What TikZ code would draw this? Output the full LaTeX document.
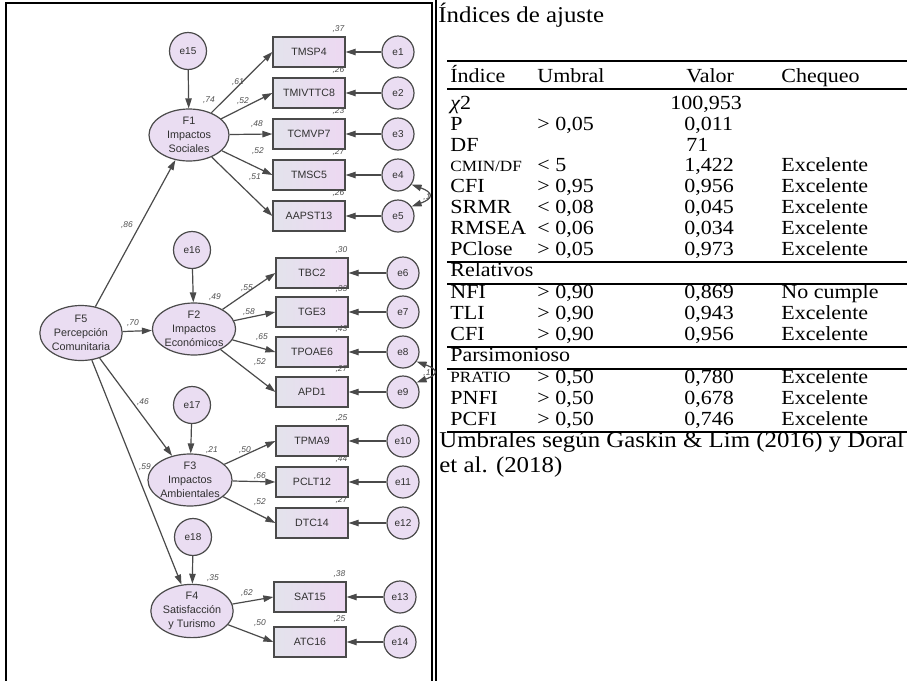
\documentclass[tikz,border=0pt]{standalone}
\usepackage{fontspec}
\setmainfont{Liberation Serif}
\newfontfamily\amosfont{Liberation Sans}
\usetikzlibrary{arrows.meta,shapes.geometric,positioning}

\definecolor{amosline}{HTML}{4A4A4A}
\definecolor{amosfill}{HTML}{EADDF2}
\definecolor{boxleft}{HTML}{E3E3EC}
\definecolor{boxright}{HTML}{EDD8F2}
\definecolor{amostext}{HTML}{303030}
\definecolor{coefgray}{HTML}{505050}

\newcommand\ancho[1]{\scalebox{1.1}[1]{#1}}

\begin{document}
\begin{tikzpicture}[x=0.5pt,y=-0.5pt,
  obs/.style={draw=amosline, line width=0.6pt, left color=boxleft, right color=boxright, minimum width=36pt, minimum height=15pt, inner sep=0pt, font=\amosfont\fontsize{5.3}{6}\selectfont, text=amostext},
  err/.style={circle, draw=amosline, line width=0.6pt, fill=amosfill, minimum size=16pt, inner sep=0pt, font=\amosfont\fontsize{5}{6}\selectfont, text=amostext},
  dist/.style={err, minimum size=18.5pt},
  lat/.style={ellipse, draw=amosline, line width=0.6pt, fill=amosfill, minimum width=40pt, minimum height=26pt, inner sep=0pt, align=center, font=\amosfont\fontsize{5.4}{7}\selectfont, text=amostext},
  reg/.style={draw=amosline, line width=0.6pt, -{Triangle[length=5pt,width=3.2pt]}},
  cov/.style={reg, {Triangle[length=5pt,width=3.2pt]}-{Triangle[length=5pt,width=3.2pt]}},
  est/.style={font=\amosfont\itshape\fontsize{4.2}{5}\selectfont, text=coefgray, inner sep=0.5pt},
  r2/.style={est, anchor=south east, yshift=1pt},
  cell/.style={anchor=base west, inner sep=0pt, font=\fontsize{10}{12}\selectfont},
  celda/.style={cell, font=\fontsize{7.8}{9}\selectfont},
  texto/.style={cell, font=\fontsize{11.3}{13}\selectfont},
  regla/.style={line width=0.6pt}]
\useasboundingbox (0,0) rectangle (907,681);

% marcos
\draw[line width=0.8pt] (6,681) -- (6,3) -- (432,3) -- (432,681);
\draw[line width=0.8pt] (436,0) -- (436,681);

% factores
\node[lat, minimum width=41pt, minimum height=27.5pt] (F5) at (81,333) {F5\\Percepción\\Comunitaria};
\node[lat] (F1) at (189,135) {F1\\Impactos\\Sociales};
\node[lat] (F2) at (194,329) {F2\\Impactos\\Económicos};
\node[lat] (F3) at (190,480) {F3\\Impactos\\Ambientales};
\node[lat] (F4) at (192,611) {F4\\Satisfacción\\y Turismo};

\node[dist] (e15) at (188,51) {e15};
\node[dist] (e16) at (192,250) {e16};
\node[dist] (e17) at (192,405) {e17};
\node[dist] (e18) at (193,537) {e18};

% indicadores
\node[obs] (TMSP4) at (309,52) {TMSP4};
\node[obs] (TMIVTTC8) at (309,93) {TMIVTTC8};
\node[obs] (TCMVP7) at (309,134) {TCMVP7};
\node[obs] (TMSC5) at (309,175) {TMSC5};
\node[obs] (AAPST13) at (309,216) {AAPST13};
\node[obs] (TBC2) at (312,273) {TBC2};
\node[obs] (TGE3) at (312,312) {TGE3};
\node[obs] (TPOAE6) at (312,352) {TPOAE6};
\node[obs] (APD1) at (312,392) {APD1};
\node[obs] (TPMA9) at (312,441) {TPMA9};
\node[obs] (PCLT12) at (312,482) {PCLT12};
\node[obs] (DTC14) at (312,523) {DTC14};
\node[obs] (SAT15) at (310,597) {SAT15};
\node[obs] (ATC16) at (310,642) {ATC16};

\node[err] (e1) at (398,52) {e1};
\node[err] (e2) at (398,93) {e2};
\node[err] (e3) at (398,134) {e3};
\node[err] (e4) at (398,175) {e4};
\node[err] (e5) at (398,216) {e5};
\node[err] (e6) at (403,273) {e6};
\node[err] (e7) at (403,312) {e7};
\node[err] (e8) at (403,352) {e8};
\node[err] (e9) at (403,392) {e9};
\node[err] (e10) at (403,441) {e10};
\node[err] (e11) at (403,482) {e11};
\node[err] (e12) at (403,523) {e12};
\node[err] (e13) at (400,597) {e13};
\node[err] (e14) at (400,642) {e14};

% trayectorias
\draw[reg] (F5) -- (F1);
\draw[reg] (F5) -- (F2);
\draw[reg] (F5) -- (F3);
\draw[reg] (F5) -- (F4);
\draw[reg] (e15) -- (F1);
\draw[reg] (e16) -- (F2);
\draw[reg] (e17) -- (F3);
\draw[reg] (e18) -- (F4);

\draw[reg] (F1) -- (TMSP4.west);
\draw[reg] (F1) -- (TMIVTTC8.west);
\draw[reg] (F1) -- (TCMVP7.west);
\draw[reg] (F1) -- (TMSC5.west);
\draw[reg] (F1) -- (AAPST13.west);
\draw[reg] (F2) -- (TBC2.west);
\draw[reg] (F2) -- (TGE3.west);
\draw[reg] (F2) -- (TPOAE6.west);
\draw[reg] (F2) -- (APD1.west);
\draw[reg] (F3) -- (TPMA9.west);
\draw[reg] (F3) -- (PCLT12.west);
\draw[reg] (F3) -- (DTC14.west);
\draw[reg] (F4) -- (SAT15.west);
\draw[reg] (F4) -- (ATC16.west);

\draw[reg] (e1) -- (TMSP4);
\draw[reg] (e2) -- (TMIVTTC8);
\draw[reg] (e3) -- (TCMVP7);
\draw[reg] (e4) -- (TMSC5);
\draw[reg] (e5) -- (AAPST13);
\draw[reg] (e6) -- (TBC2);
\draw[reg] (e7) -- (TGE3);
\draw[reg] (e8) -- (TPOAE6);
\draw[reg] (e9) -- (APD1);
\draw[reg] (e10) -- (TPMA9);
\draw[reg] (e11) -- (PCLT12);
\draw[reg] (e12) -- (DTC14);
\draw[reg] (e13) -- (SAT15);
\draw[reg] (e14) -- (ATC16);

% covarianzas
\draw[cov] (e4.-35) .. controls +(22,8) and +(22,-8) .. (e5.35);
\draw[cov] (e8.-35) .. controls +(22,8) and +(22,-8) .. (e9.35);
\node[est] (c45) at (427,197) {,1};
\node[est] (c89) at (427,373) {,1};

% estimaciones
\node[est] (b86) at (127,225) {,86};
\node[est] (b70) at (133,323) {,70};
\node[est] (b46) at (143,402) {,46};
\node[est] (b59) at (145,467) {,59};
\node[est] (s74) at (209,100) {,74};
\node[est] (s49) at (215,297) {,49};
\node[est] (s21) at (212,450) {,21};
\node[est] (s35) at (213,578) {,35};
\node[est] (l1) at (238,82) {,61};
\node[est] (l2) at (243,101) {,52};
\node[est] (l3) at (257,124) {,48};
\node[est] (l4) at (258,151) {,52};
\node[est] (l5) at (255,177) {,51};
\node[est] (l6) at (247,288) {,55};
\node[est] (l7) at (249,312) {,58};
\node[est] (l8) at (262,337) {,65};
\node[est] (l9) at (260,362) {,52};
\node[est] (l10) at (245,450) {,50};
\node[est] (l11) at (260,476) {,66};
\node[est] (l12) at (260,502) {,52};
\node[est] (l13) at (247,593) {,62};
\node[est] (l14) at (260,623) {,50};

\node[r2] (q1) at (TMSP4.north east) {,37};
\node[r2] (q2) at (TMIVTTC8.north east) {,26};
\node[r2] (q3) at (TCMVP7.north east) {,23};
\node[r2] (q4) at (TMSC5.north east) {,27};
\node[r2] (q5) at (AAPST13.north east) {,26};
\node[r2] (q6) at (TBC2.north east) {,30};
\node[r2] (q7) at (TGE3.north east) {,33};
\node[r2] (q8) at (TPOAE6.north east) {,43};
\node[r2] (q9) at (APD1.north east) {,27};
\node[r2] (q10) at (TPMA9.north east) {,25};
\node[r2] (q11) at (PCLT12.north east) {,44};
\node[r2] (q12) at (DTC14.north east) {,27};
\node[r2] (q13) at (SAT15.north east) {,38};
\node[r2] (q14) at (ATC16.north east) {,25};

% tabla de ajuste
\node[texto] (titulo) at (438,22) {\ancho{Índices de ajuste}};
\draw[regla] (447,61) -- (907,61);
\node[cell] (h1) at (450,82) {\ancho{Índice}};
\node[cell] (h2) at (537,82) {\ancho{Umbral}};
\node[cell] (h3) at (686,82) {\ancho{Valor}};
\node[cell] (h4) at (781,82) {\ancho{Chequeo}};
\draw[regla] (447,89) -- (907,89);

\node[cell] (a1) at (450,109) {\ancho{{\itshape χ}2}};
\node[cell] (a3) at (670,109) {\ancho{100,953}};
\node[cell] (b1) at (450,130) {\ancho{P}};
\node[cell] (b2) at (537,130) {\ancho{> 0,05}};
\node[cell] (b3) at (684,130) {\ancho{0,011}};
\node[cell] (c1) at (450,151) {\ancho{DF}};
\node[cell] (c3) at (686,151) {\ancho{71}};
\node[celda] (d1) at (450,171) {\ancho{CMIN/DF}};
\node[cell] (d2) at (537,171) {\ancho{< 5}};
\node[cell] (d3) at (684,171) {\ancho{1,422}};
\node[cell] (d4) at (781,171) {\ancho{Excelente}};
\node[cell] (f1) at (450,192) {\ancho{CFI}};
\node[cell] (f2) at (537,192) {\ancho{> 0,95}};
\node[cell] (f3) at (684,192) {\ancho{0,956}};
\node[cell] (f4) at (781,192) {\ancho{Excelente}};
\node[cell] (g1) at (450,213) {\ancho{SRMR}};
\node[cell] (g2) at (537,213) {\ancho{< 0,08}};
\node[cell] (g3) at (684,213) {\ancho{0,045}};
\node[cell] (g4) at (781,213) {\ancho{Excelente}};
\node[cell] (k1) at (450,234) {\ancho{RMSEA}};
\node[cell] (k2) at (537,234) {\ancho{< 0,06}};
\node[cell] (k3) at (684,234) {\ancho{0,034}};
\node[cell] (k4) at (781,234) {\ancho{Excelente}};
\node[cell] (m1) at (450,255) {\ancho{PClose}};
\node[cell] (m2) at (537,255) {\ancho{> 0,05}};
\node[cell] (m3) at (684,255) {\ancho{0,973}};
\node[cell] (m4) at (781,255) {\ancho{Excelente}};
\draw[regla] (447,262) -- (907,262);

\node[cell] (relativos) at (450,276) {\ancho{Relativos}};
\draw[regla] (447,284) -- (907,284);
\node[cell] (n1) at (450,298) {\ancho{NFI}};
\node[cell] (n2) at (537,298) {\ancho{> 0,90}};
\node[cell] (n3) at (684,298) {\ancho{0,869}};
\node[cell] (n4) at (781,298) {\ancho{No cumple}};
\node[cell] (p1) at (450,319) {\ancho{TLI}};
\node[cell] (p2) at (537,319) {\ancho{> 0,90}};
\node[cell] (p3) at (684,319) {\ancho{0,943}};
\node[cell] (p4) at (781,319) {\ancho{Excelente}};
\node[cell] (r1) at (450,340) {\ancho{CFI}};
\node[cell] (r2) at (537,340) {\ancho{> 0,90}};
\node[cell] (r3) at (684,340) {\ancho{0,956}};
\node[cell] (r4) at (781,340) {\ancho{Excelente}};
\draw[regla] (447,347) -- (907,347);

\node[cell] (parsimonioso) at (450,361) {\ancho{Parsimonioso}};
\draw[regla] (447,369) -- (907,369);
\node[celda] (s1) at (450,382) {\ancho{PRATIO}};
\node[cell] (s2) at (537,383) {\ancho{> 0,50}};
\node[cell] (s3) at (684,383) {\ancho{0,780}};
\node[cell] (s4) at (781,383) {\ancho{Excelente}};
\node[cell] (t1) at (450,404) {\ancho{PNFI}};
\node[cell] (t2) at (537,404) {\ancho{> 0,50}};
\node[cell] (t3) at (684,404) {\ancho{0,678}};
\node[cell] (t4) at (781,404) {\ancho{Excelente}};
\node[cell] (u1) at (450,425) {\ancho{PCFI}};
\node[cell] (u2) at (537,425) {\ancho{> 0,50}};
\node[cell] (u3) at (684,425) {\ancho{0,746}};
\node[cell] (u4) at (781,425) {\ancho{Excelente}};
\draw[regla] (447,432) -- (907,432);

\node[texto] (nota1) at (439,447) {\ancho{Umbrales según Gaskin \& Lim (2016) y Doral}};
\node[texto] (nota2) at (439,472) {\ancho{et al. (2018)}};
\end{tikzpicture}
\end{document}
